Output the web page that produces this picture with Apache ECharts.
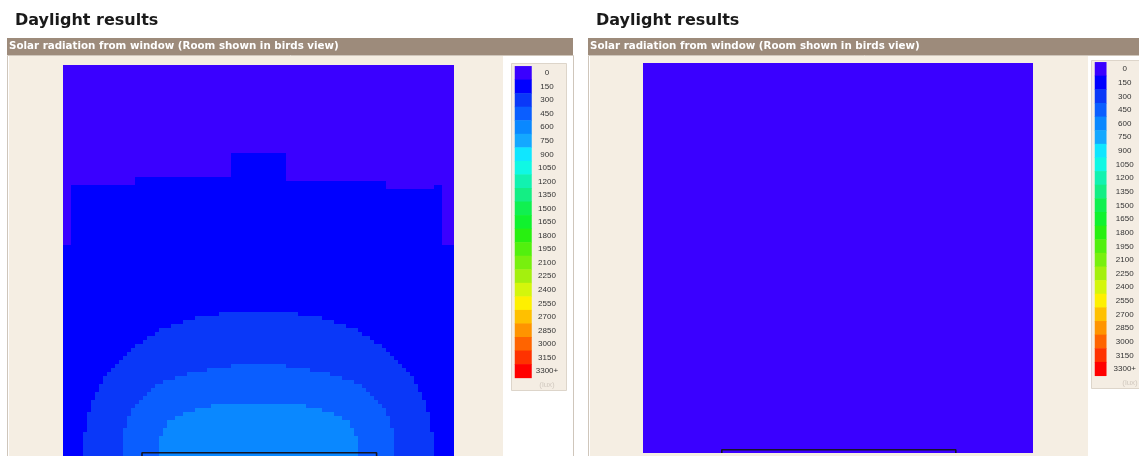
<!DOCTYPE html>
<html>
<head>
<meta charset="utf-8">
<style>
html,body{margin:0;padding:0;background:#ffffff;}
#chart{width:1139px;height:456px;}
</style>
<script src="https://cdn.jsdelivr.net/npm/echarts@6/dist/echarts.min.js"></script>
</head>
<body>
<div id="chart"></div>
<script>
// ---------- DATA ----------
const pageTitle = 'Daylight results';
const panelTitle = 'Solar radiation from window (Room shown in birds view)';
const unitLabel = '(lux)';
// legend levels (lux) and their labels / colours
const luxLevels = [0,150,300,450,600,750,900,1050,1200,1350,1500,1650,1800,1950,2100,2250,2400,2550,2700,2850,3000,3150,3300];
const luxLabels = ['0','150','300','450','600','750','900','1050','1200','1350','1500','1650','1800','1950','2100','2250','2400','2550','2700','2850','3000','3150','3300+'];
const luxColors = ['#3a00ff','#0000ff','#0a38f8','#0a5eff','#0a88ff','#14a8ff','#10e6ff','#10f8e4','#12f2b0','#14ee84','#10f050','#10f22e','#28f010','#52f00e','#78f00e','#a4f00e','#d4f60c','#fef000','#ffc000','#ff9400','#ff6400','#ff3200','#ff0000'];
// room grid (cells) – 98 x 98 cells, row 0 = far wall, row 98 = window wall
const gridCols = 98;
const gridRows = 98;
// left room: 0-lux zone depth (rows) along the far wall: [colStart, colEnd, rows]
const leftZeroDepth = [[0,2,45],[2,18,30],[18,42,28],[42,56,22],[56,81,29],[81,93,31],[93,95,30],[95,98,45]];
// left room: level of the rest of the room
const leftBaseLux = 150;
// left room contour bands near the window: [row, half width in cells around the window centre]
const roomCentreCol = 49;
const band300 = [[62,10],[63,15.5],[64,19],[65,22],[66,24.5],[67,26],[68,27.5],[69,29],[70,30.5],[71,32],[72,33],[73,34],[74,35],[75,36],[76,37],[77,37.5],[78,38.5],[79,39],[80,39.5],[81,40],[82,40.5],[83,41],[84,41.5],[85,42],[86,42],[87,42.5],[88,42.5],[89,43],[90,43],[91,43],[92,43.5],[93,43.5],[94,43.5],[95,43.5],[96,43.5],[97,43.5]];
const band450 = [[75,7],[76,12.5],[77,17.5],[78,21],[79,23.5],[80,25.5],[81,26.5],[82,28],[83,29],[84,29.5],[85,30.5],[86,31.5],[87,32],[88,32.5],[89,33],[90,33],[91,33.5],[92,33.5],[93,34],[94,34],[95,34],[96,34],[97,34]];
const band600 = [[85,11.5],[86,15.5],[87,19],[88,21],[89,22.5],[90,23],[91,23.5],[92,24],[93,24.5],[94,24.5],[95,24.5],[96,24.5],[97,24.5]];
// right room: whole room at 0 lux
const rightBaseLux = 0;
// window on the window wall (cells)
const windowCols = [19.8, 78.6];
const windowRow = 97.2;

// ---------- BUILD ----------
function bandLookup(list){ const m = {}; list.forEach(([r,h]) => m[r] = h); return m; }
const b300 = bandLookup(band300), b450 = bandLookup(band450), b600 = bandLookup(band600);
function zeroDepth(c){ for (const [a,b,d] of leftZeroDepth) if (c >= a && c < b) return d; return 0; }
function inBand(m, r, c){ return m[r] !== undefined && Math.abs(c + 0.5 - roomCentreCol) <= m[r]; }

// run-length rows: [colStart, colEnd, row, lux]
function runs(cellValue){
  const out = [];
  for (let r = 0; r < gridRows; r++) {
    let start = 0, cur = cellValue(r, 0);
    for (let c = 1; c <= gridCols; c++) {
      const v = c < gridCols ? cellValue(r, c) : null;
      if (v !== cur) { out.push([start, c, r, cur]); start = c; cur = v; }
    }
  }
  return out;
}
const leftData = runs((r, c) => {
  let v = leftBaseLux;
  if (r < zeroDepth(c)) v = 0;
  if (inBand(b300, r, c)) v = 300;
  if (inBand(b450, r, c)) v = 450;
  if (inBand(b600, r, c)) v = 600;
  return v;
});
const rightData = runs(() => rightBaseLux);
const legendData = luxLevels.map((v, i) => [0, i, v]);
const pieces = luxLevels.map((v, i) => i < luxLevels.length - 1
  ? {gte: v, lt: luxLevels[i+1], color: luxColors[i]}
  : {gte: v, color: luxColors[i]});
const windowPath = [[windowCols[0], gridRows], [windowCols[0], windowRow], [windowCols[1], windowRow], [windowCols[1], gridRows]];

function renderRun(params, api){
  const a = api.coord([api.value(0), api.value(2)]);
  const b = api.coord([api.value(1), api.value(2) + 1]);
  const x0 = Math.round(Math.min(a[0], b[0])), x1 = Math.round(Math.max(a[0], b[0]));
  const y0 = Math.round(Math.min(a[1], b[1])), y1 = Math.round(Math.max(a[1], b[1]));
  return {type: 'rect', shape: {x: x0, y: y0, width: x1 - x0, height: y1 - y0}, style: {fill: api.visual('color')}};
}

// ---------- LAYOUT ----------
const cream = '#f5eee3';
const headerCol = '#9d8b7b';
const frameCol = '#cfc6bb';
const P = [
  {x0: 7, x1: 573, creamEnd: 503, map: {l: 63, t: 65, w: 391, h: 391}, leg: {x: 511, y: 63, w: 55, h: 327, sl: 515, st: 66.3, sh: 311.6, lab: 547}, title: 15},
  {x0: 588, x1: 1150, creamEnd: 1088, map: {l: 643, t: 63, w: 390, h: 390}, leg: {x: 1091, y: 60, w: 60, h: 328, sl: 1095, st: 62.3, sh: 313.5, lab: 1130}, title: 596}
];

const graphic = [];
const titles = [];
P.forEach(p => {
  graphic.push({type: 'rect', z: 0, shape: {x: p.x0 + 0.5, y: 55.5, width: p.x1 - p.x0, height: 410}, style: {fill: '#ffffff', stroke: frameCol, lineWidth: 1}});
  graphic.push({type: 'rect', z: 0, shape: {x: p.x0 + 2, y: 56, width: p.creamEnd - p.x0 - 2, height: 410}, style: {fill: cream}});
  graphic.push({type: 'rect', z: 0, shape: {x: p.x0, y: 38, width: p.x1 - p.x0, height: 17}, style: {fill: headerCol}});
  graphic.push({type: 'rect', z: 0, shape: {x: p.leg.x + 0.5, y: p.leg.y + 0.5, width: p.leg.w, height: p.leg.h}, style: {fill: '#f4ede3', stroke: '#ddd5ca', lineWidth: 1}});
  graphic.push({type: 'text', z: 1, x: p.leg.lab, y: p.leg.st + p.leg.sh + 7, style: {text: unitLabel, fill: '#d2cac0', font: '8px "Liberation Sans", Arial, sans-serif', textAlign: 'center', textVerticalAlign: 'middle'}});
  titles.push({text: pageTitle, left: p.title, top: 13, padding: 0, textStyle: {fontFamily: '"DejaVu Sans", Verdana, sans-serif', fontWeight: 'bold', fontSize: 16, color: '#1a1a1a'}});
  titles.push({text: panelTitle, left: p.x0 + 2, top: 41, padding: 0, textStyle: {fontFamily: '"DejaVu Sans", Verdana, sans-serif', fontWeight: 'bold', fontSize: 10.3, color: '#ffffff'}});
});

const grids = [], xAxes = [], yAxes = [], series = [];
P.forEach((p, i) => {
  grids.push({left: p.map.l, top: p.map.t, width: p.map.w, height: p.map.h});
  grids.push({left: p.leg.sl, top: p.leg.st, width: 16.5, height: p.leg.sh});
  xAxes.push({type: 'value', gridIndex: 2*i, min: 0, max: gridCols, show: false});
  yAxes.push({type: 'value', gridIndex: 2*i, min: 0, max: gridRows, inverse: true, show: false});
  xAxes.push({type: 'category', gridIndex: 2*i+1, data: ['0'], show: false});
  yAxes.push({type: 'category', gridIndex: 2*i+1, data: luxLabels, inverse: true, position: 'right',
    axisLine: {show: false}, axisTick: {show: false}, splitLine: {show: false},
    axisLabel: {show: true, margin: p.leg.lab - p.leg.sl - 16.5, align: 'center', fontSize: 8, color: '#333333', fontFamily: '"Liberation Sans", Arial, sans-serif', interval: 0}});
  series.push({type: 'custom', xAxisIndex: 2*i, yAxisIndex: 2*i, data: i === 0 ? leftData : rightData,
    encode: {x: [0, 1], y: 2}, renderItem: renderRun, progressive: 0, silent: true, clip: true});
  series.push({type: 'heatmap', xAxisIndex: 2*i+1, yAxisIndex: 2*i+1, data: legendData, progressive: 0, itemStyle: {borderWidth: 0}, emphasis: {disabled: true}, silent: true});
  series.push({type: 'line', xAxisIndex: 2*i, yAxisIndex: 2*i, symbol: 'none', z: 5, silent: true,
    data: windowPath, lineStyle: {color: '#151525', width: 1.6}});
});

const chart = echarts.init(document.getElementById('chart'), null, {renderer: 'canvas'});
chart.setOption({
  animation: false,
  backgroundColor: '#ffffff',
  title: titles,
  graphic: graphic,
  grid: grids,
  xAxis: xAxes,
  yAxis: yAxes,
  visualMap: [
    {type: 'piecewise', show: false, dimension: 3, seriesIndex: [0, 3], pieces: pieces},
    {type: 'piecewise', show: false, dimension: 2, seriesIndex: [1, 4], pieces: pieces}
  ],
  series: series
});
</script>
</body>
</html>
